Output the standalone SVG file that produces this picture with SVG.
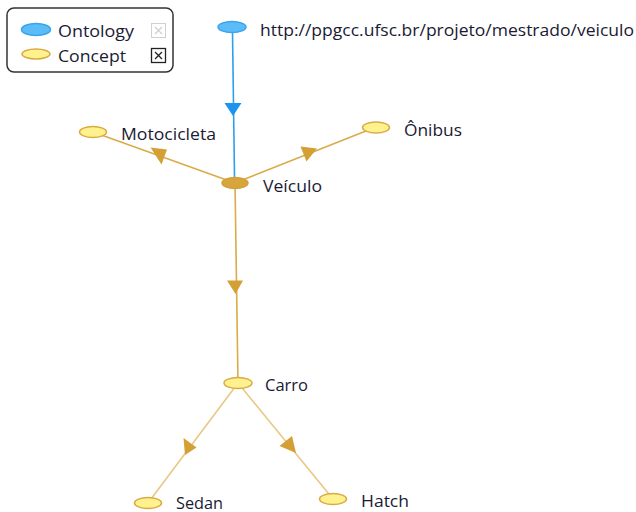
<svg xmlns="http://www.w3.org/2000/svg" width="636" height="512" viewBox="0 0 636 512">
  <style>
    text { font-family: "Open Sans", "Noto Sans", "DejaVu Sans", sans-serif; font-size: 16.5px; fill: #1a1a33; }
    .concept { fill: #fff28e; stroke: #d9ab45; stroke-width: 1.5; }
    .selected { fill: #d8a53c; stroke: #d2a03a; stroke-width: 1.5; }
    .ontology { fill: #5cbcf7; stroke: #3aa4ee; stroke-width: 1.5; }
    .edge { stroke: #d9ab4a; stroke-width: 1.6; fill: none; }
    .edge-light { stroke: #e8c883; stroke-width: 1.6; fill: none; }
    .edge-blue { stroke: #2d9ff0; stroke-width: 1.6; fill: none; }
    .head { fill: #d4a035; }
    .head-blue { fill: #1e93ee; }
    .cross { stroke-width: 1.3; fill: none; }
  </style>
  <rect width="636" height="512" fill="#ffffff"/>

  <!-- legend -->
  <g id="legend">
    <rect x="7" y="8" width="166" height="64" rx="7" fill="#ffffff" stroke="#333333" stroke-width="1.5"/>
    <ellipse class="ontology" cx="36" cy="29.5" rx="14.5" ry="6"/>
    <text x="58" y="37" textLength="76" lengthAdjust="spacingAndGlyphs">Ontology</text>
    <rect x="151.5" y="23.5" width="14" height="14" fill="#ffffff" stroke="#d0d0d0" stroke-width="1"/>
    <path class="cross" d="M155 27 L162 34 M162 27 L155 34" stroke="#d0d0d0"/>
    <ellipse class="concept" cx="36" cy="54" rx="14" ry="5"/>
    <text x="58" y="61.5" textLength="68" lengthAdjust="spacingAndGlyphs">Concept</text>
    <rect x="151.5" y="48.5" width="14" height="14" fill="#ffffff" stroke="#222222" stroke-width="1.3"/>
    <path class="cross" d="M155 52 L162 59 M162 52 L155 59" stroke="#222222"/>
  </g>

  <!-- connectors -->
  <g id="connectors">
    <line class="edge-blue" x1="232.5" y1="32" x2="234.5" y2="177"/>
    <polygon class="head-blue" points="233,116 224.5,103 241.5,103"/>

    <line class="edge" x1="235" y1="183" x2="93" y2="132"/>
    <polygon class="head" points="150.5,147.5 167,149.5 161.5,164.5"/>

    <line class="edge" x1="235" y1="183" x2="376" y2="127"/>
    <polygon class="head" points="317,148.5 306.5,161.5 300.5,146.5"/>

    <line class="edge" x1="235" y1="183" x2="238" y2="383"/>
    <polygon class="head" points="235.5,294 227,280.5 243,280.5"/>

    <line class="edge-light" x1="238" y1="383" x2="148" y2="503"/>
    <polygon class="head" points="185,455 183.5,438 196.5,447.5"/>

    <line class="edge-light" x1="238" y1="383" x2="333" y2="499"/>
    <polygon class="head" points="296,453 279.5,446 292,436"/>
  </g>

  <!-- nodes -->
  <g id="node-ontology">
    <ellipse class="ontology" cx="232" cy="27" rx="14" ry="5.5"/>
    <text x="260" y="36" textLength="374" lengthAdjust="spacingAndGlyphs">http://ppgcc.ufsc.br/projeto/mestrado/veiculo</text>
  </g>
  <g id="node-veiculo">
    <ellipse class="selected" cx="235" cy="183" rx="13" ry="5.5"/>
    <text x="263" y="191.5" textLength="59" lengthAdjust="spacingAndGlyphs">Veículo</text>
  </g>
  <g id="node-motocicleta">
    <ellipse class="concept" cx="93" cy="132" rx="13.5" ry="5.5"/>
    <text x="121" y="140" textLength="95" lengthAdjust="spacingAndGlyphs">Motocicleta</text>
  </g>
  <g id="node-onibus">
    <ellipse class="concept" cx="376" cy="127.5" rx="13.5" ry="5.5"/>
    <text x="404" y="135.5" textLength="58" lengthAdjust="spacingAndGlyphs">Ônibus</text>
  </g>
  <g id="node-carro">
    <ellipse class="concept" cx="238" cy="383" rx="14" ry="5.5"/>
    <text x="265" y="391" textLength="43" lengthAdjust="spacingAndGlyphs">Carro</text>
  </g>
  <g id="node-sedan">
    <ellipse class="concept" cx="148" cy="503" rx="13.5" ry="5.5"/>
    <text x="176" y="508.5" textLength="47" lengthAdjust="spacingAndGlyphs">Sedan</text>
  </g>
  <g id="node-hatch">
    <ellipse class="concept" cx="333" cy="499" rx="13.5" ry="5.5"/>
    <text x="361" y="506.5" textLength="48" lengthAdjust="spacingAndGlyphs">Hatch</text>
  </g>
</svg>
